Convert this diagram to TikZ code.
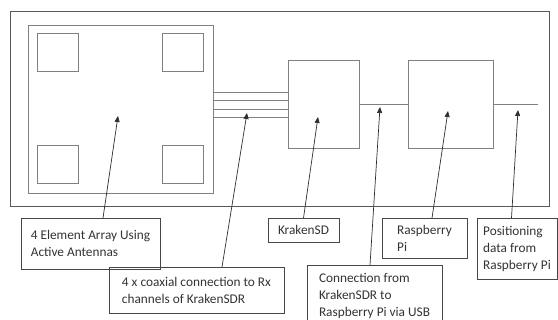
\documentclass[tikz,border=0pt]{standalone}
\usepackage{fontspec}
\setmainfont{Carlito}
\usetikzlibrary{arrows.meta, positioning}

\begin{document}
\begin{tikzpicture}[x=1pt, y=-1pt,
    block/.style={rectangle, draw=black!50, line width=0.8pt, anchor=north west, inner sep=0pt, outer sep=0pt},
    elem/.style={block, minimum width=41pt, minimum height=38pt},
    label/.style={rectangle, draw=black!72, line width=0.8pt, anchor=north west, align=left, text=black!80,
                  inner sep=0pt, outer sep=0pt, font=\fontsize{13.3pt}{17pt}\selectfont},
    wire/.style={draw=black!50, line width=0.8pt},
    pointer/.style={draw=black!82, line width=0.7pt, -{Triangle[length=6pt, width=5pt]}}
]
\useasboundingbox (0,0) rectangle (558,320);
\clip (0,0) rectangle (558,320);

% ─── System Frame ────────────────────────────────────────────────────
\node[block, draw=black!65, line width=0.9pt, minimum width=539pt, minimum height=195pt] (frame) at (10,11) {};

% ─── Antenna Array (4 elements) ──────────────────────────────────────
\node[block, minimum width=185pt, minimum height=168pt] (array) at (28,25) {};
\foreach \x/\y/\n in {37/33/1, 162/33/2, 37/145/3, 162/145/4} {
    \node[elem] (el\n) at (\x,\y) {};
}

% ─── KrakenSDR and Raspberry Pi ──────────────────────────────────────
\node[block, minimum width=71pt, minimum height=88pt] (kraken) at (288,60) {};
\node[block, minimum width=85pt, minimum height=88pt] (rpi) at (408,60) {};
\coordinate (out) at (538,104);

% Coax runs: array -> KrakenSDR
\foreach \y in {92, 100, 109, 117} {
    \draw[wire] (array.east |- 0,\y) -- (kraken.west |- 0,\y);
}
\draw[wire] (kraken) -- (rpi); % USB
\draw[wire] (rpi) -- (out);   % positioning data out

% ─── Labels ──────────────────────────────────────────────────────────
\node[label, minimum width=139pt, minimum height=51pt] (lblarray) at (21,218) {4 Element Array Using\\Active Antennas};
\node[label, minimum width=175pt, minimum height=46pt] (lblcoax) at (109,267) {4 x coaxial connection to Rx\\channels of KrakenSDR};
\node[label, minimum width=71pt, minimum height=24pt] (lblkraken) at (268,218) {KrakenSD};
\node[label, minimum width=135pt, minimum height=62pt] (lblconn) at (307,265) {Connection from\\KrakenSDR to\\Raspberry Pi via USB};
\node[label, minimum width=85pt, minimum height=40pt] (lblrpi) at (382,218) {Raspberry\\Pi};
\node[label, minimum width=80pt, minimum height=61pt] (lblpos) at (477,218) {Positioning\\data from\\Raspberry Pi};

% ─── Pointers ────────────────────────────────────────────────────────
\coordinate (tiparray) at (118,116);
\coordinate (tipcoax) at (247,113);
\coordinate (tipkraken) at (318,117);
\coordinate (tipconn) at (380,107);
\coordinate (tiprpi) at (448,111);
\coordinate (tippos) at (518,110);

\draw[pointer] ([xshift=12.5pt]lblarray.north) -- (tiparray);
\draw[pointer] ([xshift=25.5pt]lblcoax.north) -- (tipcoax);
\draw[pointer] (lblkraken.north) -- (tipkraken);
\draw[pointer] ([xshift=-4.5pt]lblconn.north) -- (tipconn);
\draw[pointer] ([xshift=7.5pt]lblrpi.north) -- (tiprpi);
\draw[pointer] ([xshift=-5.5pt]lblpos.north) -- (tippos);

\end{tikzpicture}
\end{document}
